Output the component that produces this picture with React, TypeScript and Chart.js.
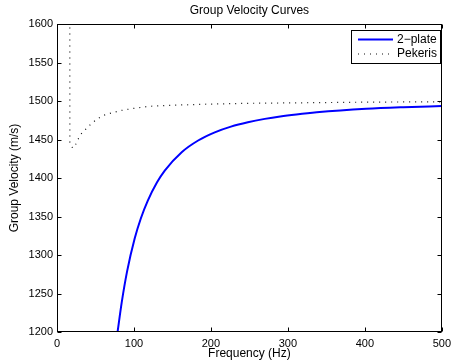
import React, { useEffect, useRef } from "react";
import { Chart, registerables } from "chart.js";

Chart.register(...registerables);

const TITLE = "Group Velocity Curves";
const X_LABEL = "Frequency (Hz)";
const Y_LABEL = "Group Velocity (m/s)";
const SERIES_NAMES = ["2\u2212plate", "Pekeris"];

const xTicks = [0, 100, 200, 300, 400, 500];
const yTicks = [1200, 1250, 1300, 1350, 1400, 1450, 1500, 1550, 1600];

const plateFreq = [78.7, 84, 91, 101, 109, 118, 130, 140, 162, 183.4, 205, 226, 248, 270, 290, 311, 337.5, 401.7, 450, 500];
const plateVel = [1200, 1237.8, 1278.4, 1321.6, 1347.7, 1370.7, 1394.4, 1409.7, 1433.5, 1448.7, 1459.3, 1466.7, 1472.4, 1476.8, 1480, 1482.6, 1485.3, 1489.8, 1491.9, 1493.5];

const pekFreq = [16.6, 16.7, 18, 19.5, 21.8, 25, 28.2, 32, 37, 42, 47.5, 53, 59, 66, 72, 85, 100, 119, 150, 200, 250, 300, 400, 500];
const pekVel = [1650, 1447, 1442, 1440, 1439, 1445, 1452, 1458, 1463, 1468, 1473, 1477, 1481, 1483, 1485, 1488, 1490.5, 1493, 1494.5, 1496, 1497, 1497.5, 1498.5, 1499];

const FONT = "'Liberation Sans', Arial, Helvetica, sans-serif";

const decorPlugin = {
  id: "decor",
  afterDraw(chart: any) {
    const ctx = chart.ctx;
    const { left, right, top, bottom } = chart.chartArea;
    const xs = chart.scales.x;
    const ys = chart.scales.y;
    ctx.save();
    ctx.strokeStyle = "#000";
    ctx.lineWidth = 1;
    const L = Math.round(left) + 0.5;
    const R = Math.round(right) - 0.5;
    const T = Math.round(top) + 0.5;
    const B = Math.round(bottom) - 0.5;
    ctx.strokeRect(L, T, R - L, B - T);
    const tl = 4;
    ctx.beginPath();
    xTicks.forEach((v) => {
      const px = Math.round(xs.getPixelForValue(v)) + 0.5;
      ctx.moveTo(px, B);
      ctx.lineTo(px, B - tl);
      ctx.moveTo(px, T);
      ctx.lineTo(px, T + tl);
    });
    yTicks.forEach((v) => {
      const py = Math.round(ys.getPixelForValue(v)) + 0.5;
      ctx.moveTo(L, py);
      ctx.lineTo(L + tl, py);
      ctx.moveTo(R, py);
      ctx.lineTo(R - tl, py);
    });
    ctx.stroke();

    ctx.fillStyle = "#000";
    ctx.font = "12px " + FONT;
    ctx.textAlign = "center";
    ctx.textBaseline = "middle";
    ctx.fillText(TITLE, (left + right) / 2, 11);
    ctx.fillText(X_LABEL, (left + right) / 2, 353.5);
    ctx.save();
    ctx.translate(15, (top + bottom) / 2);
    ctx.rotate(-Math.PI / 2);
    ctx.fillText(Y_LABEL, 0, 0);
    ctx.restore();

    // legend
    const lx = 351.5, ly = 30.5, lw = 89, lh = 33;
    ctx.fillStyle = "#fff";
    ctx.fillRect(lx, ly, lw, lh);
    ctx.strokeStyle = "#000";
    ctx.lineWidth = 1;
    ctx.strokeRect(lx, ly, lw, lh);
    ctx.strokeStyle = "#0000ff";
    ctx.lineWidth = 2;
    ctx.beginPath();
    ctx.moveTo(358, 39.5);
    ctx.lineTo(393, 39.5);
    ctx.stroke();
    ctx.strokeStyle = "#111";
    ctx.lineWidth = 1.2;
    ctx.setLineDash([1, 5]);
    ctx.beginPath();
    ctx.moveTo(358, 54);
    ctx.lineTo(393, 54);
    ctx.stroke();
    ctx.setLineDash([]);
    ctx.fillStyle = "#000";
    ctx.font = "12px " + FONT;
    ctx.textAlign = "left";
    ctx.fillText(SERIES_NAMES[0], 397, 39.5);
    ctx.fillText(SERIES_NAMES[1], 397, 54);
    ctx.restore();
  },
};

export default function App() {
  const ref = useRef<HTMLCanvasElement>(null);
  useEffect(() => {
    if (!ref.current) return;
    const chart = new Chart(ref.current, {
      type: "line",
      data: {
        datasets: [
          {
            label: SERIES_NAMES[0],
            data: plateFreq.map((f, i) => ({ x: f, y: plateVel[i] })),
            borderColor: "#0000ff",
            borderWidth: 2,
            pointRadius: 0,
            cubicInterpolationMode: "monotone",
          },
          {
            label: SERIES_NAMES[1],
            data: pekFreq.map((f, i) => ({ x: f, y: pekVel[i] })),
            borderColor: "#111",
            borderWidth: 1.2,
            borderDash: [1, 5],
            pointRadius: 0,
            tension: 0,
          },
        ],
      },
      options: {
        responsive: false,
        animation: false,
        layout: { padding: { top: 24, right: 9, left: 0, bottom: 0 } },
        plugins: { legend: { display: false }, title: { display: false }, tooltip: { enabled: false } },
        scales: {
          x: {
            type: "linear",
            min: 0,
            max: 500,
            afterFit: (s: any) => { s.height = 32; },
            afterBuildTicks: (s: any) => { s.ticks = xTicks.map((v) => ({ value: v })); },
            grid: { display: false, drawTicks: false },
            border: { display: false },
            ticks: { color: "#000", padding: 5, maxRotation: 0, font: { size: 11, family: FONT }, callback: (v: any) => String(v) },
          },
          y: {
            type: "linear",
            min: 1200,
            max: 1600,
            afterFit: (s: any) => { s.width = 57; },
            afterBuildTicks: (s: any) => { s.ticks = yTicks.map((v) => ({ value: v })); },
            grid: { display: false, drawTicks: false },
            border: { display: false },
            ticks: { color: "#000", padding: 4, font: { size: 11, family: FONT }, callback: (v: any) => String(v) },
          },
        },
      },
      plugins: [decorPlugin],
    } as any);
    return () => chart.destroy();
  }, []);
  return (
    <div style={{ position: "fixed", left: 0, top: 0, width: 456, height: 364, background: "#fff" }}>
      <canvas ref={ref} width={456} height={364} />
    </div>
  );
}
